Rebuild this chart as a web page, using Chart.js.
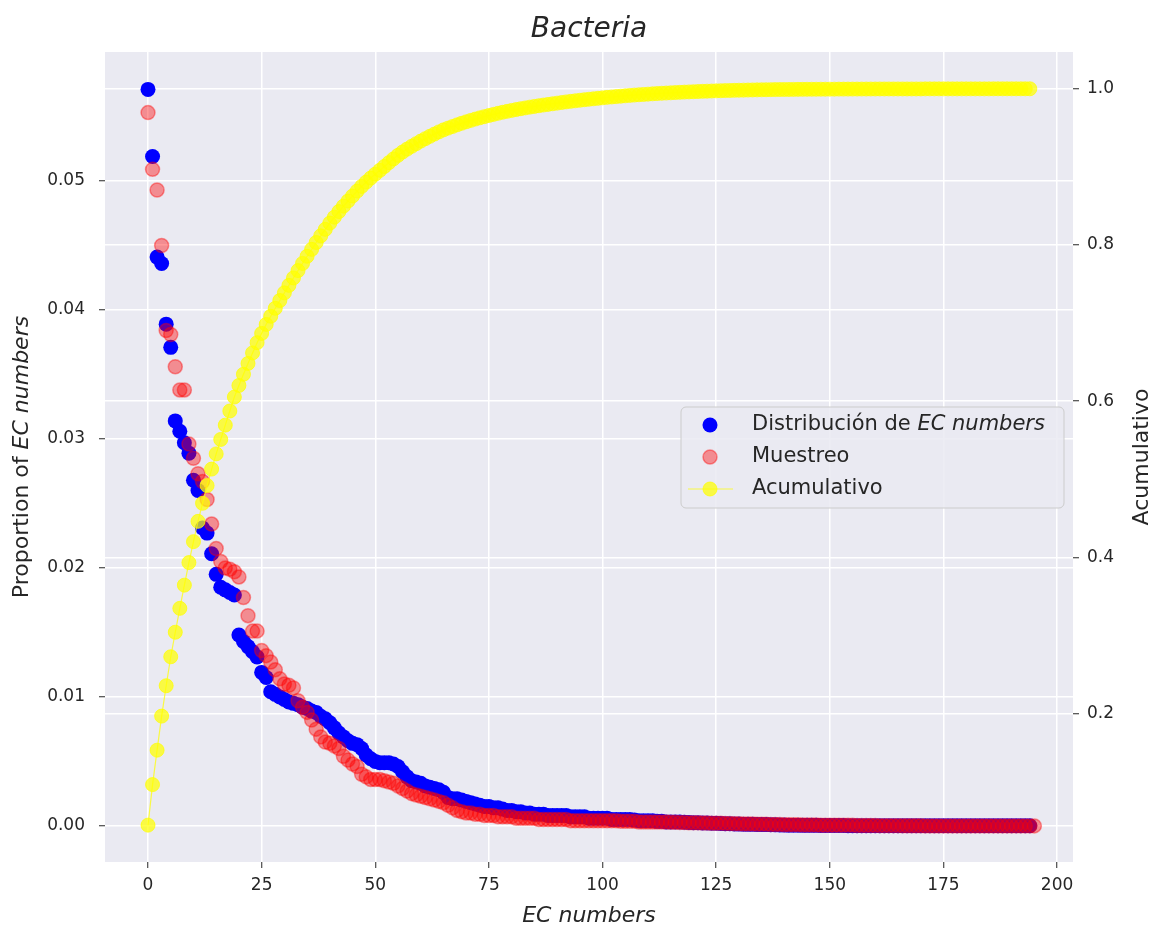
<!DOCTYPE html>
<html><head><meta charset="utf-8">
<script src="https://cdn.jsdelivr.net/npm/chart.js@4.4.1/dist/chart.umd.min.js"></script>
<style>html,body{margin:0;padding:0;background:#fff;}#wrap{width:1154px;height:930px;}</style>
</head><body><div id="wrap"><canvas id="c" width="1154" height="930"></canvas></div>
<script>
// ---- data ----
const titleText = 'Bacteria';
const xTitle = 'EC numbers';
const yLeftTitle = ['Proportion of ', 'EC numbers'];
const yRightTitle = 'Acumulativo';
const legendLabels = [['Distribución de ', 'EC numbers'], ['Muestreo', ''], ['Acumulativo', '']];
const xTicks = [0, 25, 50, 75, 100, 125, 150, 175, 200];
const leftTicks = [0.00, 0.01, 0.02, 0.03, 0.04, 0.05];
const rightTicks = [0.2, 0.4, 0.6, 0.8, 1.0];

const distribucion = [
 .0571,.0519,.0441,.0436,.0389,.0371,.0314,.0306,.0297,.0289,
 .0268,.0260,.0231,.0227,.0211,.0195,.0185,.0183,.0181,.0179,
 .0148,.0143,.0139,.0135,.0131,.0119,.0115,.0104,.0102,.0100,
 .0098,.0096,.0095,.0094,.0092,.0091,.0089,.0088,.0085,.0083,
 .0080,.0076,.0072,.0069,.0066,.0064,.0063,.0060,.0055,.0052,
 .0050,.0049,.0049,.0049,.0048,.0046,.0042,.0038,.0035,.0034,
 .0033,.0031,.0030,.0029,.0028,.0026,.0022,.0021,.0021,.0020,
 .0019,.0018,.0017,.0016,.0015,.0015,.0014,.0014,.0013,.0012,
 .0012,.0011,.0011,.0010,.0010,.0009,.0009,.0009,.0008,.0008,
 .0008,.0008,.0008,.0007,.0007,.0007,.0007,.0006,.0006,.0006,
 .0006,.0006,.0005,.0005,.0005,.0005,.0005,.00045,.0004,.0004,
 .0004,.0004,.00035,.00035,.0003,.0003,.0003,.0003,.00028,.00026,
 .00025,.00024,.00023,.00022,.0002,.0002,.00018,.00017,.00016,.00015,
 .00014,.00013,.00012,.00012,.00011,.0001,.0001,.00009,.00008,.00007,
 .00006,.00005,.00005,.00005,.00004,.00004,.00004,.00004,.00003,.00003,
 .00003,.00003,.00003,.00003,.00002,.00002,.00002,.00002,.00002,.00002,
 .00002,.00001,.00001,.00001,.00001,.00001,.00001,.00001,.00001,.00001,
 .00001,.00001,.00001,.00001,.00001,.00001,.00001,.00001,.00001,.00001,
 .00001,.00001,.00001,.00001,.00001,.00001,.00001,.00001,.00001,.00001,
 .00001,.00001,.00001,.00001,.00001
];

const muestreo = [
 .0553,.0509,.0493,.0450,.0384,.0381,.0356,.0338,.0338,.0296,
 .0285,.0273,.0267,.0253,.0234,.0215,.0205,.0200,.0199,.0197,
 .0193,.0177,.0163,.0151,.0151,.0136,.0132,.0127,.0121,.0114,
 .0110,.0109,.0107,.0097,.0092,.0088,.0082,.0075,.0069,.0065,
 .0064,.0062,.0060,.0054,.0051,.0048,.0046,.0040,.0038,.0036,
 .0036,.0036,.0035,.0034,.0033,.0031,.0029,.0027,.0025,.0024,
 .0023,.0022,.0021,.0020,.0019,.0018,.0016,.0014,.0012,.0011,
 .0010,.0010,.0009,.0009,.0008,.0008,.0008,.0007,.0007,.0007,
 .0007,.0006,.0006,.0006,.0006,.0006,.0005,.0005,.0005,.0005,
 .0005,.0005,.0005,.0004,.0004,.0004,.0004,.0004,.0004,.0004,
 .0004,.0004,.0004,.0004,.00035,.00035,.00035,.00035,.0003,.0003,
 .0003,.0003,.0003,.0003,.0003,.00028,.00028,.00026,.00026,.00025,
 .00025,.00024,.00023,.00022,.00021,.0002,.0002,.00019,.00018,.00017,
 .00016,.00015,.00015,.00014,.00013,.00012,.00012,.00011,.0001,.0001,
 .00009,.00009,.00008,.00008,.00007,.00007,.00006,.00006,.00005,.00005,
 .00005,.00004,.00004,.00004,.00004,.00004,.00003,.00003,.00003,.00003,
 .00003,.00002,.00002,.00002,.00002,.00002,.00001,.00001,.00001,.00001,
 .00001,0,0,0,0,0,0,0,0,0,
 0,0,0,0,0,0,0,0,0,0,
 0,0,0,0,0,0
];

const acumulativo = [
 .0571,.1090,.1531,.1967,.2356,.2727,.3041,.3347,.3644,.3933,
 .4201,.4461,.4692,.4919,.5130,.5325,.5510,.5693,.5874,.6053,
 .6201,.6344,.6483,.6618,.6749,.6868,.6983,.7087,.7189,.7289,
 .7387,.7483,.7578,.7672,.7764,.7855,.7944,.8032,.8117,.8200,
 .8280,.8356,.8428,.8497,.8563,.8627,.8690,.8750,.8805,.8857,
 .8907,.8956,.9005,.9054,.9102,.9148,.9190,.9228,.9263,.9297,
 .9330,.9361,.9391,.9420,.9448,.9474,.9496,.9517,.9538,.9558,
 .9577,.9595,.9612,.9628,.9643,.9658,.9672,.9686,.9699,.9711,
 .9723,.9734,.9745,.9755,.9765,.9774,.9783,.9792,.9800,.9808,
 .9816,.9824,.9832,.9839,.9846,.9853,.9860,.9866,.9872,.9878,
 .9884,.9890,.9895,.9900,.9905,.9910,.9915,.99195,.99235,.99275,
 .99315,.99355,.9939,.99425,.99455,.99485,.99515,.99545,.99573,.99599,
 .99624,.99648,.99671,.99693,.99713,.99733,.99751,.99768,.99784,.99799,
 .99813,.99826,.99838,.9985,.99861,.99871,.99881,.9989,.99898,.99905,
 .99911,.99916,.99921,.99926,.9993,.99934,.99938,.99942,.99945,.99948,
 .99951,.99954,.99957,.9996,.99962,.99964,.99966,.99968,.9997,.99972,
 .99974,.9998,.9998,.9998,.9998,.9998,.9998,.9998,.9998,.9998,
 .9998,.9999,.9999,.9999,.9999,.9999,.9999,.9999,.9999,.9999,
 .9999,.9999,.9999,.9999,.9999,.9999,1.0,1.0,1.0,1.0,
 1.0,1.0,1.0,1.0,1.0
];

// ---- styling ----
const FONT = 'DejaVu Sans';
const TXT = '#262626';
const BLUE = '#0000ff';
const RED = 'rgba(255,0,0,0.4)';
const YEL = 'rgba(255,255,0,0.72)';
const toXY = arr => arr.map((v, i) => ({ x: i, y: v }));

const bgPlugin = {
  id: 'bg',
  beforeDraw(chart) {
    const { ctx, chartArea: a } = chart;
    ctx.save();
    ctx.fillStyle = '#ffffff';
    ctx.fillRect(0, 0, chart.width, chart.height);
    ctx.fillStyle = '#EAEAF2';
    ctx.fillRect(a.left, a.top, a.right - a.left, a.bottom - a.top);
    ctx.restore();
  }
};

function drawMixed(ctx, parts, x, y, size) {
  ctx.font = `normal ${size}px "${FONT}"`;
  const w1 = ctx.measureText(parts[0]).width;
  ctx.font = `italic ${size}px "${FONT}"`;
  const w2 = parts[1] ? ctx.measureText(parts[1]).width : 0;
  let sx = x - (w1 + w2) / 2;
  ctx.textBaseline = 'middle';
  ctx.textAlign = 'left';
  ctx.font = `normal ${size}px "${FONT}"`;
  ctx.fillText(parts[0], sx, y);
  if (parts[1]) {
    ctx.font = `italic ${size}px "${FONT}"`;
    ctx.fillText(parts[1], sx + w1, y);
  }
}

const decoPlugin = {
  id: 'deco',
  afterDraw(chart) {
    const { ctx, chartArea: a } = chart;
    ctx.save();
    ctx.fillStyle = TXT;
    const cy = (a.top + a.bottom) / 2;
    ctx.save();
    ctx.translate(22, cy);
    ctx.rotate(-Math.PI / 2);
    drawMixed(ctx, yLeftTitle, 0, 0, 22);
    ctx.restore();
    ctx.save();
    ctx.translate(1142, cy);
    ctx.rotate(-Math.PI / 2);
    drawMixed(ctx, [yRightTitle, ''], 0, 0, 22);
    ctx.restore();
    // legend
    const bx = 681, by = 407, bw = 383, bh = 101, r = 5;
    ctx.beginPath();
    ctx.moveTo(bx + r, by);
    ctx.arcTo(bx + bw, by, bx + bw, by + bh, r);
    ctx.arcTo(bx + bw, by + bh, bx, by + bh, r);
    ctx.arcTo(bx, by + bh, bx, by, r);
    ctx.arcTo(bx, by, bx + bw, by, r);
    ctx.closePath();
    ctx.fillStyle = 'rgba(234,234,242,0.85)';
    ctx.fill();
    ctx.strokeStyle = '#cccccc';
    ctx.lineWidth = 1;
    ctx.stroke();
    const rows = [425, 457, 489];
    const mx = 710, tx = 752;
    ctx.beginPath(); ctx.arc(mx, rows[0], 7.5, 0, Math.PI * 2);
    ctx.fillStyle = BLUE; ctx.fill();
    ctx.beginPath(); ctx.arc(mx, rows[1], 7, 0, Math.PI * 2);
    ctx.fillStyle = RED; ctx.fill(); ctx.strokeStyle = RED; ctx.lineWidth = 1.5; ctx.stroke();
    ctx.beginPath(); ctx.moveTo(688, rows[2]); ctx.lineTo(733, rows[2]);
    ctx.strokeStyle = YEL; ctx.lineWidth = 1.2; ctx.stroke();
    ctx.beginPath(); ctx.arc(mx, rows[2], 7, 0, Math.PI * 2);
    ctx.fillStyle = YEL; ctx.fill(); ctx.strokeStyle = YEL; ctx.lineWidth = 1; ctx.stroke();
    ctx.fillStyle = TXT;
    legendLabels.forEach((p, i) => {
      ctx.font = `normal 21px "${FONT}"`;
      const w1 = ctx.measureText(p[0]).width;
      ctx.textAlign = 'left'; ctx.textBaseline = 'middle';
      ctx.fillText(p[0], tx, rows[i]);
      if (p[1]) { ctx.font = `italic 21px "${FONT}"`; ctx.fillText(p[1], tx + w1, rows[i]); }
    });
    ctx.restore();
  }
};

const tickFont = { family: FONT, size: 17 };
const gridCommon = { color: '#ffffff', lineWidth: 1.5, tickColor: TXT, tickLength: 6, tickWidth: 1 };

new Chart(document.getElementById('c'), {
  type: 'scatter',
  data: {
    datasets: [
      {
        label: legendLabels[0].join(''), data: toXY(distribucion), yAxisID: 'y', order: 3,
        backgroundColor: BLUE, borderColor: BLUE, pointRadius: 7.5, pointBorderWidth: 0, pointHoverRadius: 7.5
      },
      {
        label: legendLabels[1][0], data: toXY(muestreo), yAxisID: 'y', order: 2,
        backgroundColor: RED, borderColor: RED, pointRadius: 7, pointBorderWidth: 1.5, pointHoverRadius: 7
      },
      {
        label: legendLabels[2][0], data: toXY(acumulativo), yAxisID: 'y2', order: 1,
        showLine: true, borderColor: YEL, borderWidth: 1.2, backgroundColor: YEL,
        pointBackgroundColor: YEL, pointBorderColor: YEL, pointBorderWidth: 1, pointRadius: 7, tension: 0
      }
    ]
  },
  options: {
    responsive: false, animation: false, devicePixelRatio: 1,
    layout: { padding: 0 },
    plugins: {
      legend: { display: false },
      tooltip: { enabled: false },
      title: {
        display: true, text: titleText, fullSize: false, color: TXT,
        font: { family: FONT, size: 28, style: 'italic', weight: 'normal' },
        padding: { top: 13, bottom: 5.4 }
      }
    },
    scales: {
      x: {
        type: 'linear', min: -9.46, max: 203.5,
        afterBuildTicks: s => { s.ticks = xTicks.map(v => ({ value: v })); },
        afterFit: s => { s.height = 68; },
        ticks: { font: tickFont, color: TXT, padding: 7, autoSkip: false, maxRotation: 0, callback: v => String(v) },
        grid: gridCommon, border: { display: false },
        title: { display: true, text: xTitle, color: TXT, font: { family: FONT, size: 22, style: 'italic' }, padding: { top: 0, bottom: 1 } }
      },
      y: {
        type: 'linear', position: 'left', min: -0.0028, max: 0.0600,
        afterBuildTicks: s => { s.ticks = leftTicks.map(v => ({ value: v })); },
        afterFit: s => { s.width = 105; },
        ticks: { font: tickFont, color: TXT, padding: 14, autoSkip: false, callback: v => Number(v).toFixed(2) },
        grid: gridCommon, border: { display: false }
      },
      y2: {
        type: 'linear', position: 'right', min: 0.0099, max: 1.0471,
        afterBuildTicks: s => { s.ticks = rightTicks.map(v => ({ value: v })); },
        afterFit: s => { s.width = 81; },
        ticks: { font: tickFont, color: TXT, padding: 8, autoSkip: false, callback: v => Number(v).toFixed(1) },
        grid: gridCommon, border: { display: false }
      }
    }
  },
  plugins: [bgPlugin, decoPlugin]
});
</script></body></html>
